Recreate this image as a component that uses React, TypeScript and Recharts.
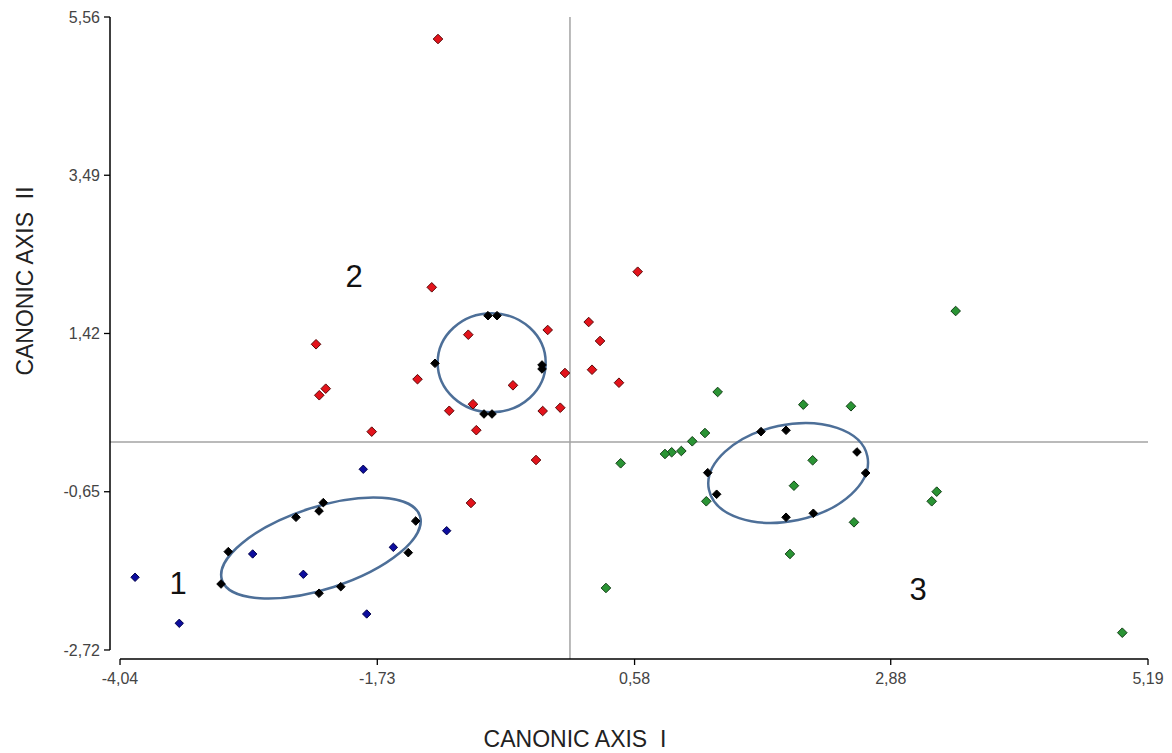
import React from 'react';
import { ScatterChart, Scatter, XAxis, YAxis, ReferenceLine } from 'recharts';

// ---- axes ----
const X_TICKS = [-4.04, -1.73, 0.58, 2.88, 5.19];
const Y_TICKS = [-2.72, -0.65, 1.42, 3.49, 5.56];
const X_DOMAIN: [number, number] = [-4.13, 5.19];
const Y_DOMAIN: [number, number] = [-2.838, 5.56];
const X_TITLE = 'CANONIC AXIS  I';
const Y_TITLE = 'CANONIC AXIS  II';

// ---- group 1 (blue) ----
const blueX = [-3.905, -3.508, -1.856, -1.107, -1.586, -2.849, -2.394, -1.825];
const blueY = [-1.769, -2.371, -0.356, -1.16, -1.377, -1.464, -1.73, -2.249];

// ---- group 2 (red) ----
const redX = [-1.185, -1.241, -0.913, -0.2, 0.608, 0.168, 0.27, -1.369, -0.045, 0.198, 0.44, -0.512,
  -1.084, -0.871, -0.245, -0.087, -0.841, -0.305, -0.889, -2.28, -2.193, -2.251, -1.78];
const redY = [5.272, 2.024, 1.404, 1.466, 2.228, 1.57, 1.322, 0.822, 0.903, 0.946, 0.776, 0.742,
  0.409, 0.495, 0.406, 0.449, 0.155, -0.235, -0.797, 1.279, 0.698, 0.612, 0.136];

// ---- group 3 (green) ----
const greenX = [3.463, 1.326, 2.095, 2.523, 1.212, 1.098, 1.0, 0.913, 0.853, 0.455, 2.179, 2.011,
  1.224, 2.55, 1.975, 3.293, 3.248, 0.323, 4.959];
const greenY = [1.714, 0.655, 0.489, 0.468, 0.118, 0.01, -0.117, -0.134, -0.156, -0.278, -0.239, -0.571,
  -0.775, -1.05, -1.464, -0.649, -0.775, -1.909, -2.494];

// ---- black points on confidence ellipses ----
const blackX = [-2.215, -2.253, -2.46, -1.385, -3.068, -1.452, -3.133, -2.253, -2.058,
  -0.736, -0.655, -1.212, -0.251, -0.251, -0.772, -0.7,
  1.715, 1.94, 2.577, 2.655, 1.237, 1.317, 1.94, 2.185];
const blackY = [-0.793, -0.902, -0.984, -1.033, -1.434, -1.447, -1.857, -1.978, -1.892,
  1.653, 1.653, 1.03, 1.008, 0.956, 0.367, 0.367,
  0.136, 0.154, -0.13, -0.405, -0.401, -0.683, -0.984, -0.932];

// ---- ellipses (centre, semi-axes in axis units, tilt in degrees) ----
const ellipseX = [-2.236, -0.703, 1.959];
const ellipseY = [-1.386, 1.037, -0.405];
const ellipseRX = [0.934, 0.485, 0.727];
const ellipseRY = [0.536, 0.647, 0.628];
const ellipseTilt = [-18, 0, -12];

// ---- group labels ----
const groupLabelText = ['1', '2', '3'];
const groupLabelX = [-3.519, -1.939, 3.125];
const groupLabelY = [-1.844, 2.159, -1.935];

const zip = (xs: number[], ys: number[]) => xs.map((x, i) => ({ x, y: ys[i] }));
const blueData = zip(blueX, blueY);
const redData = zip(redX, redY);
const greenData = zip(greenX, greenY);
const blackData = zip(blackX, blackY);
const ellipseData = ellipseX.map((x, i) => ({ x, y: ellipseY[i], rx: ellipseRX[i], ry: ellipseRY[i], tilt: ellipseTilt[i] }));
const labelData = groupLabelX.map((x, i) => ({ x, y: groupLabelY[i], text: groupLabelText[i] }));

// ---- layout ----
const W = 1172;
const H = 753;
const MARGIN = { top: 17, right: 24, bottom: 0, left: 0 };
const Y_AXIS_W = 110;
const X_AXIS_H = 94;
const PLOT_W = W - MARGIN.right - MARGIN.left - Y_AXIS_W;
const PLOT_H = H - MARGIN.top - MARGIN.bottom - X_AXIS_H;
const PX_X = PLOT_W / (X_DOMAIN[1] - X_DOMAIN[0]);
const PX_Y = PLOT_H / (Y_DOMAIN[1] - Y_DOMAIN[0]);
const FONT = '"Liberation Sans", Arial, Helvetica, sans-serif';

const fmt = (v: number) => v.toFixed(2).replace('.', ',');

const diamond = (fill: string, stroke: string, r: number) => (props: any) => {
  const { cx, cy } = props;
  if (cx == null || cy == null) return <g />;
  return (
    <polygon
      points={`${cx},${cy - r} ${cx + r},${cy} ${cx},${cy + r} ${cx - r},${cy}`}
      fill={fill}
      stroke={stroke}
      strokeWidth={1}
    />
  );
};

const ellipseShape = (props: any) => {
  const { cx, cy, payload } = props;
  if (cx == null || cy == null) return <g />;
  return (
    <ellipse
      cx={cx}
      cy={cy}
      rx={payload.rx * PX_X}
      ry={payload.ry * PX_Y}
      transform={`rotate(${payload.tilt} ${cx} ${cy})`}
      fill="none"
      stroke="#4d6f98"
      strokeWidth={2.5}
    />
  );
};

const labelShape = (props: any) => {
  const { cx, cy, payload } = props;
  if (cx == null || cy == null) return <g />;
  return (
    <text x={cx} y={cy} textAnchor="middle" dominantBaseline="central" fontFamily={FONT} fontSize={31} fill="#111">
      {payload.text}
    </text>
  );
};

const tickStyle = { fill: '#444', fontSize: 16, fontFamily: FONT };

export default function App() {
  return (
    <div style={{ position: 'absolute', left: 0, top: 0, width: W, height: H, background: '#fff' }}>
      <ScatterChart width={W} height={H} margin={MARGIN}>
        <XAxis
          type="number"
          dataKey="x"
          domain={X_DOMAIN}
          ticks={X_TICKS}
          interval={0}
          allowDataOverflow
          height={X_AXIS_H}
          axisLine={false}
          tickLine={{ stroke: '#000', strokeWidth: 1.3 }}
          tickSize={6}
          tickMargin={8}
          tick={tickStyle}
          tickFormatter={fmt}
        />
        <YAxis
          type="number"
          dataKey="y"
          domain={Y_DOMAIN}
          ticks={Y_TICKS}
          interval={0}
          allowDataOverflow
          width={Y_AXIS_W}
          axisLine={false}
          tickLine={{ stroke: '#000', strokeWidth: 1.3 }}
          tickSize={6}
          tickMargin={4}
          tick={tickStyle}
          tickFormatter={fmt}
        />
        <ReferenceLine x={0} stroke="#a3a3a3" strokeWidth={1.5} ifOverflow="visible" />
        <ReferenceLine y={0} stroke="#a3a3a3" strokeWidth={1.5} ifOverflow="visible" />
        <ReferenceLine
          segment={[{ x: X_DOMAIN[0], y: Y_TICKS[0] }, { x: X_DOMAIN[0], y: Y_TICKS[Y_TICKS.length - 1] }]}
          stroke="#000"
          strokeWidth={1.5}
          ifOverflow="visible"
        />
        <ReferenceLine
          segment={[{ x: X_TICKS[0], y: Y_DOMAIN[0] }, { x: X_TICKS[X_TICKS.length - 1], y: Y_DOMAIN[0] }]}
          stroke="#000"
          strokeWidth={1.5}
          ifOverflow="visible"
        />
        <Scatter name="ellipses" data={ellipseData} shape={ellipseShape} isAnimationActive={false} />
        <Scatter name="labels" data={labelData} shape={labelShape} isAnimationActive={false} />
        <Scatter name="group1" data={blueData} shape={diamond('#0d0d9e', '#00004a', 4.2)} isAnimationActive={false} />
        <Scatter name="group2" data={redData} shape={diamond('#e3131b', '#5a0808', 4.8)} isAnimationActive={false} />
        <Scatter name="group3" data={greenData} shape={diamond('#2a9434', '#123f16', 4.8)} isAnimationActive={false} />
        <Scatter name="centroid" data={blackData} shape={diamond('#000', '#000', 4.3)} isAnimationActive={false} />
      </ScatterChart>
      <svg width={W} height={H} style={{ position: 'absolute', left: 0, top: 0, pointerEvents: 'none' }}>
        <text x={575} y={747} textAnchor="middle" fontFamily={FONT} fontSize={23} fill="#222" style={{ whiteSpace: 'pre' }}>
          {X_TITLE}
        </text>
        <text
          transform="translate(33,281) rotate(-90)"
          textAnchor="middle"
          fontFamily={FONT}
          fontSize={23}
          fill="#222"
          style={{ whiteSpace: 'pre' }}
        >
          {Y_TITLE}
        </text>
      </svg>
    </div>
  );
}
